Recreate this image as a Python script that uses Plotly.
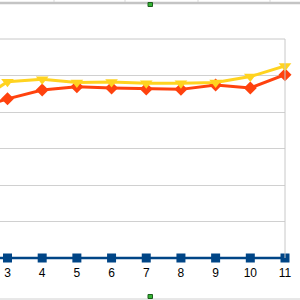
import plotly.graph_objects as go

x_cats = [2, 3, 4, 5, 6, 7, 8, 9, 10, 11]
tick_labels = ["2", "3", "4", "5", "6", "7", "8", "9", "10", "11"]
blue_vals = [0, 0, 0, 0, 0, 0, 0, 0, 0, 0]
orange_vals = [4.08, 4.36, 4.60, 4.69, 4.66, 4.63, 4.62, 4.74, 4.66, 5.02]
yellow_vals = [4.2, 4.83, 4.90, 4.81, 4.82, 4.79, 4.79, 4.81, 4.97, 5.26]

W, H = 300, 300
L, R, T, B = 0, 15, 39, 36
pw, ph = W - L - R, H - T - B
unit = 36.5
y_lo = -(H - B - 258) / unit

def px(x):
    return (x - L) / pw

def py(y):
    return (H - B - y) / ph

fig = go.Figure()
fig.add_trace(go.Scatter(x=x_cats, y=blue_vals, mode="lines+markers", name="Series 1",
                         line=dict(color="#004586", width=2.5),
                         marker=dict(symbol="square", size=9, color="#004586"),
                         cliponaxis=False))
fig.add_trace(go.Scatter(x=x_cats, y=orange_vals, mode="lines+markers", name="Series 2",
                         line=dict(color="#ff420e", width=3),
                         marker=dict(symbol="diamond", size=10, color="#ff420e"),
                         cliponaxis=False))
fig.add_trace(go.Scatter(x=x_cats, y=yellow_vals, mode="lines+markers", name="Series 3",
                         line=dict(color="#ffd320", width=3),
                         marker=dict(symbol="triangle-down", size=11, color="#ffd320"),
                         cliponaxis=False))

shapes = [
    # right border of plot area
    dict(type="line", xref="paper", yref="paper", x0=1, x1=1, y0=py(258), y1=1,
         line=dict(color="#c8c8c8", width=1)),
    dict(type="line", xref="paper", yref="paper", x0=px(0), x1=1, y0=1, y1=1,
         line=dict(color="#c8c8c8", width=1)),
    # outer frame lines (top and bottom)
    dict(type="line", xref="paper", yref="paper", x0=px(0), x1=px(300), y0=py(3), y1=py(3),
         line=dict(color="#c4c4c4", width=2.5)),
    dict(type="line", xref="paper", yref="paper", x0=px(0), x1=px(300), y0=py(299), y1=py(299),
         line=dict(color="#d0d0d0", width=1)),
]
for cx in [54, 125, 198, 270]:
    shapes.append(dict(type="line", xref="paper", yref="paper", x0=px(cx), x1=px(cx),
                       y0=py(0), y1=py(2), line=dict(color="#d8d8d8", width=1)))
for cy in [4.5, 296.5]:
    shapes.append(dict(type="rect", xref="paper", yref="paper",
                       x0=px(148), x1=px(152.5), y0=py(cy - 2), y1=py(cy + 2),
                       fillcolor="#35b535", line=dict(color="#1d5e1d", width=1)))

fig.update_layout(
    width=W, height=H,
    margin=dict(l=L, r=R, t=T, b=B),
    paper_bgcolor="white", plot_bgcolor="white",
    showlegend=False,
    shapes=shapes,
    xaxis=dict(range=[3 - 7.5 / 34.69, 11], tickvals=x_cats, ticktext=tick_labels,
               showgrid=False, zeroline=False, showline=False, ticks="",
               tickfont=dict(family="Liberation Sans, Arial, sans-serif", size=12, color="#000000")),
    yaxis=dict(range=[y_lo, 6], tick0=0, dtick=1, showgrid=True, gridcolor="#d0d0d0", gridwidth=1,
               zeroline=False, showline=False, showticklabels=False, ticks=""),
)

fig.write_html("out.html")
